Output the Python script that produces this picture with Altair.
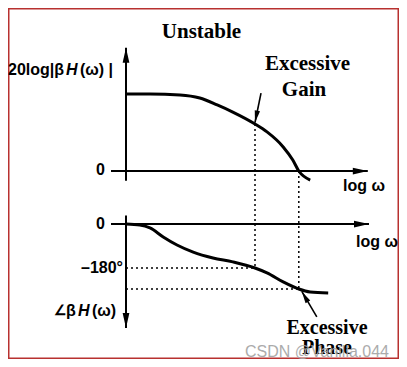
import math
import altair as alt
import pandas as pd

# ---------------- values ----------------
# loop-gain magnitude curve (x = log omega, arbitrary decades; y = dB)
LOG_W_GAIN = [0.0, 0.40, 0.90, 1.23, 1.52, 1.78, 2.15, 2.35, 2.62, 2.78, 2.88, 3.07]
GAIN_DB = [40.0, 40.0, 39.5, 37.9, 34.3, 30.6, 24.4, 20.3, 12.5, 5.7, 0.0, -4.7]

# loop-gain phase curve (degrees)
LOG_W_PHASE = [0.0, 0.23, 0.40, 0.62, 0.85, 1.12, 1.45, 1.78, 2.15, 2.35, 2.62, 2.88, 3.07, 3.37]
PHASE_DEG = [0, -4, -16, -53, -86, -115, -139, -155, -180, -200, -237, -266, -278, -282]

# characteristic points
X_PHASE_180 = 2.15      # phase crosses -180 deg here
GAIN_AT_180 = 24.4      # "excessive gain"
X_UNITY_GAIN = 2.88     # gain crosses 0 dB here
PHASE_AT_UNITY = -266   # "excessive phase"

# axis extents (x in log omega units, y in dB / degrees)
GAIN_AXIS_X = [-0.25, 4.03]
GAIN_AXIS_Y = [-5.0, 64.0]
PHASE_AXIS_X = [-0.25, 4.05]
PHASE_AXIS_Y = [35.0, -425.0]

# annotation arrows: tail -> tip
GAIN_ARROW = [2.25, 40.5, 2.15, 25.2]
PHASE_ARROW = [3.18, -380.0, 2.93, -276.0]

# tick labels / texts
TITLE = "Unstable"
GAIN_NOTE = ["Excessive", "Gain"]
PHASE_NOTE = ["Excessive", "Phase"]
WATERMARK = "CSDN @Vanilla.044"

# ---------------- layout ----------------
W, H = 391, 351
X_DOMAIN, X_RANGE = [0, 4], [118, 358]
MAG_DOMAIN, MAG_RANGE = [0, 40], [163, 86]
PH_DOMAIN, PH_RANGE = [0, -180], [216, 260]

SANS = "Liberation Sans"
SERIF = "Liberation Serif"
ARROW = "M0,0 L-0.45,-2 L0.45,-2 Z"


def lin(v, d, r):
    return r[0] + (v - d[0]) / (d[1] - d[0]) * (r[1] - r[0])


def inv(p, d, r):
    return d[0] + (p - r[0]) / (r[1] - r[0]) * (d[1] - d[0])


xs = alt.Scale(domain=X_DOMAIN, range=X_RANGE, nice=False, zero=False)
ms = alt.Scale(domain=MAG_DOMAIN, range=MAG_RANGE, nice=False, zero=False)
ps = alt.Scale(domain=PH_DOMAIN, range=PH_RANGE, nice=False, zero=False)


def X(f="x"):
    return alt.X(f"{f}:Q", scale=xs, axis=None)


def Y(scale, f="y"):
    return alt.Y(f"{f}:Q", scale=scale, axis=None)


def angle_of(arrow, d, r):
    x0, y0, x1, y1 = arrow
    dx = lin(x1, X_DOMAIN, X_RANGE) - lin(x0, X_DOMAIN, X_RANGE)
    dy = lin(y1, d, r) - lin(y0, d, r)
    return math.degrees(math.atan2(-dx, dy)) % 360


def head(x, y, scale, angle, size):
    df = pd.DataFrame({"x": [x], "y": [y]})
    return alt.Chart(df).mark_point(
        shape=ARROW, filled=True, size=size, angle=angle, color="black",
        opacity=1, strokeWidth=0
    ).encode(x=X(), y=Y(scale))


def label(text, px, py, font=SANS, size=16, weight="bold", style="normal",
          align="left", baseline="middle", color="black", opacity=1.0):
    return alt.Chart(pd.DataFrame({"t": [text]})).mark_text(
        font=font, fontSize=size, fontWeight=weight, fontStyle=style,
        align=align, baseline=baseline, color=color, opacity=opacity
    ).encode(x=alt.value(px - 8), y=alt.value(py - 8), text="t:N")


layers = []

# ---- curves ----
gain_df = pd.DataFrame({"x": LOG_W_GAIN, "y": GAIN_DB})
phase_df = pd.DataFrame({"x": LOG_W_PHASE, "y": PHASE_DEG})
layers.append(alt.Chart(gain_df).mark_line(color="black", strokeWidth=3, interpolate="monotone")
              .encode(x=X(), y=Y(ms)))
layers.append(alt.Chart(phase_df).mark_line(color="black", strokeWidth=3, interpolate="monotone")
              .encode(x=X(), y=Y(ps)))

# ---- dotted guides ----
bottom_180 = inv(lin(-180, PH_DOMAIN, PH_RANGE), MAG_DOMAIN, MAG_RANGE)
bottom_unity = inv(lin(PHASE_AT_UNITY, PH_DOMAIN, PH_RANGE), MAG_DOMAIN, MAG_RANGE)
vdf = pd.DataFrame({"x": [X_PHASE_180, X_UNITY_GAIN],
                    "y": [GAIN_AT_180, 0.0],
                    "y2": [bottom_180, bottom_unity]})
layers.append(alt.Chart(vdf).mark_rule(color="black", strokeWidth=1.5, strokeDash=[2, 3])
              .encode(x=X(), y=Y(ms), y2="y2:Q"))
hdf = pd.DataFrame({"x": [0.0, 0.0], "x2": [X_PHASE_180, X_UNITY_GAIN],
                    "y": [-180, PHASE_AT_UNITY]})
layers.append(alt.Chart(hdf).mark_rule(color="black", strokeWidth=1.5, strokeDash=[2, 3])
              .encode(x=X(), x2="x2:Q", y=Y(ps)))

# ---- axes ----
gax = pd.DataFrame({"x": [GAIN_AXIS_X[0]], "x2": [GAIN_AXIS_X[1]], "y": [0.0]})
gay = pd.DataFrame({"x": [0.0], "y": [GAIN_AXIS_Y[0]], "y2": [GAIN_AXIS_Y[1]]})
pax = pd.DataFrame({"x": [PHASE_AXIS_X[0]], "x2": [PHASE_AXIS_X[1]], "y": [0.0]})
pay = pd.DataFrame({"x": [0.0], "y": [PHASE_AXIS_Y[0]], "y2": [PHASE_AXIS_Y[1]]})
layers.append(alt.Chart(gax).mark_rule(color="black", strokeWidth=2).encode(x=X(), x2="x2:Q", y=Y(ms)))
layers.append(alt.Chart(gay).mark_rule(color="black", strokeWidth=2).encode(x=X(), y=Y(ms), y2="y2:Q"))
layers.append(alt.Chart(pax).mark_rule(color="black", strokeWidth=2).encode(x=X(), x2="x2:Q", y=Y(ps)))
layers.append(alt.Chart(pay).mark_rule(color="black", strokeWidth=2).encode(x=X(), y=Y(ps), y2="y2:Q"))

layers.append(head(GAIN_AXIS_X[1], 0.0, ms, 270, 225))
layers.append(head(0.0, GAIN_AXIS_Y[1], ms, 180, 225))
layers.append(head(PHASE_AXIS_X[1], 0.0, ps, 270, 225))
layers.append(head(0.0, PHASE_AXIS_Y[1], ps, 0, 225))

# ---- annotation arrows ----
ga = pd.DataFrame({"x": [GAIN_ARROW[0]], "y": [GAIN_ARROW[1]], "x2": [GAIN_ARROW[2]], "y2": [GAIN_ARROW[3]]})
pa = pd.DataFrame({"x": [PHASE_ARROW[0]], "y": [PHASE_ARROW[1]], "x2": [PHASE_ARROW[2]], "y2": [PHASE_ARROW[3]]})
layers.append(alt.Chart(ga).mark_rule(color="black", strokeWidth=1.6)
              .encode(x=X(), x2="x2:Q", y=Y(ms), y2="y2:Q"))
layers.append(alt.Chart(pa).mark_rule(color="black", strokeWidth=1.6)
              .encode(x=X(), x2="x2:Q", y=Y(ps), y2="y2:Q"))
layers.append(head(GAIN_ARROW[2], GAIN_ARROW[3], ms, angle_of(GAIN_ARROW, MAG_DOMAIN, MAG_RANGE), 144))
layers.append(head(PHASE_ARROW[2], PHASE_ARROW[3], ps, angle_of(PHASE_ARROW, PH_DOMAIN, PH_RANGE), 144))

# ---- texts ----
layers.append(label(TITLE, 201.5, 38, font=SERIF, size=21, align="center", baseline="alphabetic"))
layers.append(label(GAIN_NOTE[0], 307.5, 70, font=SERIF, size=21, align="center", baseline="alphabetic"))
layers.append(label(GAIN_NOTE[1], 304, 96, font=SERIF, size=21, align="center", baseline="alphabetic"))
layers.append(label(PHASE_NOTE[0], 327, 334, font=SERIF, size=20, align="center", baseline="alphabetic"))
layers.append(label(PHASE_NOTE[1], 327, 354, font=SERIF, size=20, align="center", baseline="alphabetic"))

layers.append(label("20log|β", 8, 75, baseline="alphabetic"))
layers.append(label("H", 66, 75, style="italic", baseline="alphabetic"))
layers.append(label("(ω) |", 80, 75, baseline="alphabetic"))

layers.append(label("0", 105, 170, align="right"))
layers.append(label("0", 105, 224, align="right"))
layers.append(label("–180°", 123, 268, align="right"))
layers.append(label("log ω", 343, 186))
layers.append(label("log ω", 356, 242))

layers.append(label("∠", 54, 311, size=14))
layers.append(label("β", 66, 311))
layers.append(label("H", 78, 311, style="italic"))
layers.append(label("(ω)", 92, 311))

layers.append(label(WATERMARK, 245, 352, weight="normal", color="#a3a3a3", opacity=0.9))

chart = (
    alt.layer(*layers)
    .resolve_scale(y="independent")
    .properties(width=W, height=H, padding=0,
                autosize=alt.AutoSizeParams(type="none"), background="white")
    .configure_view(stroke="#b8312f", strokeWidth=3)
)

chart.save("out.html", embed_options={"renderer": "svg", "actions": False})
